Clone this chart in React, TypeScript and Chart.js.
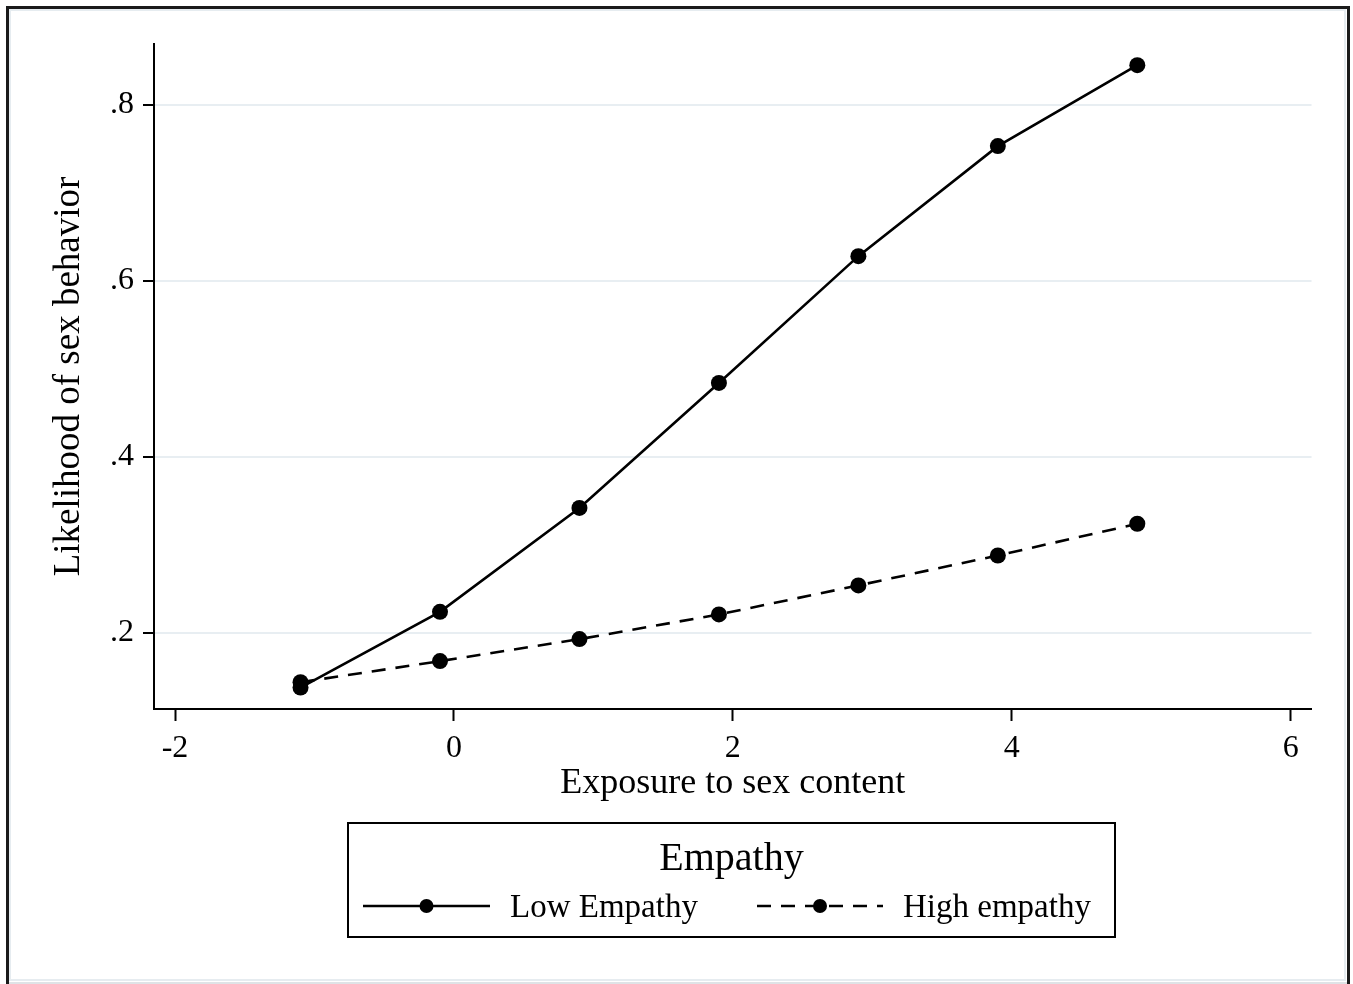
import React, { useEffect, useRef } from 'react';
import { Chart, registerables } from 'chart.js';

Chart.register(...registerables);

const exposure = [-1.1, -0.1, 0.9, 1.9, 2.9, 3.9, 4.9];
const lowEmpathy = [0.138, 0.224, 0.342, 0.484, 0.628, 0.753, 0.845];
const highEmpathy = [0.144, 0.168, 0.193, 0.221, 0.254, 0.288, 0.324];
const xTicks = [-2, 0, 2, 4, 6];
const yTicks = [0.2, 0.4, 0.6, 0.8];
const seriesLabels = ['Low Empathy', 'High empathy'];
const legendTitle = 'Empathy';
const xTitle = 'Exposure to sex content';
const yTitle = 'Likelihood of sex behavior';

const FONT = '"Liberation Serif", "Times New Roman", serif';
const W = 1353;
const H = 984;

const framePlugin = {
  id: 'frame',
  beforeDraw(chart: any) {
    const ctx = chart.ctx;
    ctx.save();
    ctx.fillStyle = '#ffffff';
    ctx.fillRect(0, 0, W, H);
    ctx.restore();
  },
  afterDraw(chart: any) {
    const ctx = chart.ctx;
    ctx.save();
    // inner light border
    ctx.strokeStyle = '#e6ecf0';
    ctx.lineWidth = 2;
    ctx.strokeRect(10, 10, 1335, 970);
    // outer dark frame
    ctx.strokeStyle = '#1a1a1a';
    ctx.lineWidth = 3;
    ctx.beginPath();
    ctx.moveTo(7.5, 984);
    ctx.lineTo(7.5, 7.5);
    ctx.lineTo(1348.5, 7.5);
    ctx.lineTo(1348.5, 984);
    ctx.stroke();
    ctx.strokeStyle = '#dfe3e6';
    ctx.lineWidth = 2;
    ctx.beginPath();
    ctx.moveTo(9, 983);
    ctx.lineTo(1347, 983);
    ctx.stroke();

    // legend
    const bx = 348, by = 823, bw = 767, bh = 114;
    ctx.strokeStyle = '#000';
    ctx.lineWidth = 2;
    ctx.strokeRect(bx, by, bw, bh);
    ctx.fillStyle = '#000';
    ctx.textAlign = 'center';
    ctx.textBaseline = 'middle';
    ctx.font = `40px ${FONT}`;
    ctx.fillText(legendTitle, bx + bw / 2, 859);

    const items = [
      { x0: 363, x1: 490, tx: 510 },
      { x0: 757, x1: 883, tx: 903 },
    ];
    const y = 906;
    chart.data.datasets.forEach((ds: any, i: number) => {
      const it = items[i];
      if (!it) return;
      ctx.strokeStyle = ds.borderColor;
      ctx.lineWidth = ds.borderWidth;
      ctx.setLineDash(ds.borderDash || []);
      ctx.beginPath();
      ctx.moveTo(it.x0, y);
      ctx.lineTo(it.x1, y);
      ctx.stroke();
      ctx.setLineDash([]);
      ctx.beginPath();
      ctx.arc((it.x0 + it.x1) / 2, y, 7, 0, Math.PI * 2);
      ctx.fillStyle = ds.pointBackgroundColor;
      ctx.fill();
      ctx.fillStyle = '#000';
      ctx.textAlign = 'left';
      ctx.font = `33px ${FONT}`;
      ctx.fillText(ds.label, it.tx, y + 2);
    });
    ctx.restore();
  },
};

function fmtY(v: number) {
  return v.toFixed(1).replace(/^0/, '');
}

export default function App() {
  const ref = useRef<HTMLCanvasElement | null>(null);

  useEffect(() => {
    if (!ref.current) return;
    const chart = new Chart(ref.current, {
      type: 'line',
      data: {
        datasets: [
          {
            label: seriesLabels[0],
            data: exposure.map((x, i) => ({ x, y: lowEmpathy[i] })),
            borderColor: '#000',
            backgroundColor: '#000',
            pointBackgroundColor: '#000',
            pointBorderColor: '#000',
            borderWidth: 2.6,
            pointRadius: 8,
            pointBorderWidth: 0,
            tension: 0,
            fill: false,
          },
          {
            label: seriesLabels[1],
            data: exposure.map((x, i) => ({ x, y: highEmpathy[i] })),
            borderColor: '#000',
            backgroundColor: '#000',
            pointBackgroundColor: '#000',
            pointBorderColor: '#000',
            borderWidth: 2.6,
            borderDash: [14, 10],
            pointRadius: 8,
            pointBorderWidth: 0,
            tension: 0,
            fill: false,
          },
        ],
      },
      options: {
        responsive: false,
        animation: false,
        layout: {
          padding: { left: 47, top: 44, right: 41.5, bottom: 178.4 },
        },
        plugins: {
          legend: { display: false },
          tooltip: { enabled: false },
          title: { display: false },
        },
        scales: {
          x: {
            type: 'linear',
            min: -2.1506,
            max: 6.149,
            afterFit(scale: any) {
              scale.height = 96.6;
            },
            afterBuildTicks(scale: any) {
              scale.ticks = xTicks.map((v) => ({ value: v }));
            },
            border: { display: true, color: '#000', width: 2 },
            grid: {
              drawOnChartArea: false,
              drawTicks: true,
              tickLength: 12,
              tickWidth: 2,
              tickColor: '#000',
            },
            ticks: {
              color: '#000',
              font: { family: FONT, size: 32 },
              padding: 8,
              maxRotation: 0,
              autoSkip: false,
              callback: (v: any) => String(v),
            },
            title: {
              display: true,
              text: xTitle,
              color: '#000',
              font: { family: FONT, size: 36 },
              padding: 0,
            },
          },
          y: {
            type: 'linear',
            min: 0.1136,
            max: 0.869,
            afterFit(scale: any) {
              scale.width = 107;
            },
            afterBuildTicks(scale: any) {
              scale.ticks = yTicks.map((v) => ({ value: v }));
            },
            border: { display: true, color: '#000', width: 2 },
            grid: {
              drawOnChartArea: true,
              color: '#e8eef2',
              lineWidth: 2,
              drawTicks: true,
              tickLength: 11,
              tickWidth: 2,
              tickColor: '#000',
            },
            ticks: {
              color: '#000',
              font: { family: FONT, size: 32 },
              padding: 9,
              autoSkip: false,
              callback: (v: any) => fmtY(Number(v)),
            },
            title: {
              display: true,
              text: yTitle,
              color: '#000',
              font: { family: FONT, size: 37 },
              padding: 0,
            },
          },
        },
      },
      plugins: [framePlugin],
    } as any);
    return () => chart.destroy();
  }, []);

  return (
    <div style={{ position: 'fixed', left: 0, top: 0, width: W, height: H, background: '#fff' }}>
      <canvas ref={ref} width={W} height={H} style={{ display: 'block', width: W, height: H }} />
    </div>
  );
}
